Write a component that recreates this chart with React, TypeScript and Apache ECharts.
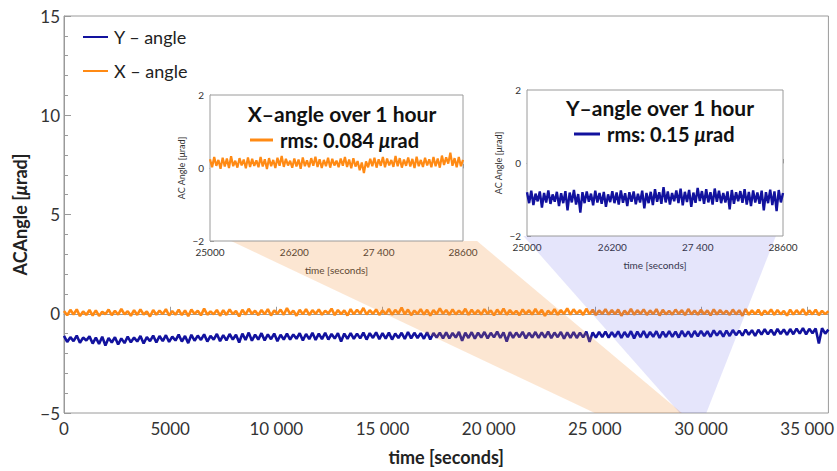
import React, { useEffect, useRef } from "react";
import * as echarts from "echarts";

// ---------- data ----------
const MAIN_START = 0;
const MAIN_STEP = 150; // seconds between plotted samples (main panel)
const INSET_START = 25000;
const INSET_STEP = 30; // seconds between plotted samples (insets)

const seriesNames = ["Y – angle", "X – angle"];
const insetTitles = ["X–angle over 1 hour", "Y–angle over 1 hour"];
const insetRms = ["rms: 0.084 μrad", "rms: 0.15 μrad"];

const mainXAngle = [
  0.14, -0.08, 0.2, -0.04, 0.22, -0.12, 0.12, -0.06, 0.19, -0.09,
  0.17, -0.11, 0.1, -0.02, 0.21, -0.07, 0.15, -0.05, 0.24, -0.03,
  0.13, -0.1, 0.18, -0.06, 0.22, -0.04, 0.11, -0.14, 0.19, -0.05,
  0.16, -0.02, 0.23, -0.09, 0.14, -0.05, 0.2, -0.07, 0.17, -0.12,
  0.21, -0.01, 0.15, -0.08, 0.26, -0.05, 0.12, -0.03, 0.19, -0.1,
  0.18, -0.06, 0.22, -0.02, 0.14, -0.13, 0.2, -0.04, 0.25, -0.01,
  0.15, -0.07, 0.19, -0.03, 0.23, -0.09, 0.17, 0.0, 0.21, -0.05,
  0.28, -0.02, 0.16, -0.1, 0.2, -0.03, 0.23, -0.06, 0.18, -0.01,
  0.22, -0.05, 0.15, 0.01, 0.26, -0.07, 0.19, -0.02, 0.17, -0.09,
  0.23, -0.03, 0.2, 0.0, 0.29, -0.04, 0.18, -0.01, 0.22, -0.06,
  0.17, -0.02, 0.24, -0.05, 0.19, 0.01, 0.31, -0.03, 0.21, -0.07,
  0.16, -0.01, 0.23, -0.04, 0.2, -0.09, 0.18, -0.02, 0.27, 0.0,
  0.19, -0.05, 0.22, -0.03, 0.16, -0.01, 0.25, -0.06, 0.2, -0.02,
  0.18, -0.04, 0.23, 0.0, 0.17, -0.08, 0.21, -0.03, 0.26, -0.05,
  0.19, -0.02, 0.15, -0.07, 0.22, -0.01, 0.18, -0.04, 0.24, -0.03,
  0.2, -0.11, 0.16, -0.02, 0.23, -0.05, 0.19, -0.01, 0.27, -0.04,
  0.22, 0.0, 0.18, -0.06, 0.25, -0.02, 0.2, -0.07, 0.17, -0.01,
  0.23, -0.04, 0.19, -0.02, 0.21, -0.1, 0.16, -0.03, 0.24, -0.05,
  0.18, -0.01, 0.22, -0.06, 0.17, -0.02, 0.23, -0.09, 0.2, -0.03,
  0.15, -0.04, 0.21, -0.01, 0.18, -0.07, 0.24, -0.03, 0.16, -0.05,
  0.2, -0.02, 0.17, -0.08, 0.22, -0.04, 0.19, -0.01, 0.15, -0.06,
  0.21, -0.03, 0.18, -0.1, 0.23, -0.05, 0.17, -0.02, 0.2, -0.07,
  0.16, -0.01, 0.22, -0.05, 0.19, -0.03, 0.14, -0.09, 0.21, -0.04,
  0.18, -0.02, 0.23, -0.06, 0.17, -0.03, 0.2, -0.07, 0.15, -0.02,
  0.13,
];

const mainYAngle = [
  -1.12, -1.42, -1.18, -1.38, -1.1, -1.46, -1.2, -1.35, -1.14, -1.5,
  -1.2, -1.52, -1.16, -1.6, -1.22, -1.45, -1.18, -1.55, -1.24, -1.48,
  -1.15, -1.44, -1.2, -1.4, -1.12, -1.5, -1.18, -1.38, -1.1, -1.45,
  -1.12, -1.38, -1.08, -1.42, -1.15, -1.35, -1.05, -1.4, -1.12, -1.48,
  -1.06, -1.36, -1.1, -1.32, -1.04, -1.4, -1.12, -1.3, -1.02, -1.38,
  -1.08, -1.34, -1.02, -1.3, -1.06, -1.45, -1.0, -1.32, -0.95, -1.36,
  -1.05, -1.3, -0.98, -1.34, -1.04, -1.28, -1.0, -1.38, -1.06, -1.3,
  -1.0, -1.3, -1.04, -1.26, -0.98, -1.34, -1.02, -1.28, -0.96, -1.32,
  -1.0, -1.28, -0.96, -1.3, -1.02, -1.25, -0.98, -1.4, -1.0, -1.27,
  -0.97, -1.26, -1.0, -1.24, -0.95, -1.3, -0.98, -1.22, -0.94, -1.28,
  -0.98, -1.25, -0.95, -1.3, -1.0, -1.22, -0.96, -1.27, -0.92, -1.24,
  -0.96, -1.22, -0.98, -1.26, -0.93, -1.3, -0.97, -1.2, -0.95, -1.24,
  -0.94, -1.24, -0.97, -1.2, -0.92, -1.36, -0.96, -1.22, -0.93, -1.25,
  -0.95, -1.2, -0.92, -1.24, -0.96, -1.19, -0.9, -1.22, -0.94, -1.4,
  -0.93, -1.21, -0.95, -1.18, -0.91, -1.24, -0.96, -1.2, -0.92, -1.22,
  -0.94, -1.2, -0.9, -1.23, -0.95, -1.18, -0.92, -1.26, -0.94, -1.21,
  -0.92, -1.22, -0.95, -1.19, -0.9, -1.42, -0.94, -1.2, -0.91, -1.18,
  -0.9, -1.2, -0.93, -1.17, -0.89, -1.22, -0.92, -1.18, -0.88, -1.24,
  -0.9, -1.18, -0.87, -1.2, -0.92, -1.16, -0.88, -1.22, -0.9, -1.17,
  -0.88, -1.16, -0.9, -1.2, -0.86, -1.15, -0.89, -1.18, -0.87, -1.14,
  -0.86, -1.12, -0.88, -1.16, -0.84, -1.1, -0.87, -1.15, -0.85, -1.12,
  -0.82, -1.08, -0.85, -1.1, -0.8, -1.06, -0.83, -1.12, -0.81, -1.05,
  -0.78, -1.04, -0.8, -1.08, -0.76, -1.02, -0.79, -1.06, -0.77, -1.03,
  -0.75, -1.0, -0.72, -1.04, -0.76, -0.98, -0.74, -1.5, -0.73, -1.0,
  -0.8,
];

const insetXAngle = [
  0.24, 0.02, 0.3, 0.06, 0.22, -0.02, 0.28, 0.04, 0.26, 0.0,
  0.32, 0.05, 0.2, 0.01, 0.27, 0.07, 0.23, -0.01, 0.29, 0.03,
  0.25, 0.06, 0.21, 0.02, 0.3, 0.04, 0.24, -0.03, 0.27, 0.05,
  0.22, 0.0, 0.28, 0.06, 0.33, 0.03, 0.25, 0.07, 0.2, 0.01,
  0.26, 0.04, 0.23, -0.02, 0.29, 0.05, 0.21, 0.02, 0.27, 0.06,
  0.31, 0.03, 0.24, 0.0, 0.22, 0.05, 0.28, 0.01, 0.25, 0.07,
  0.2, 0.02, 0.26, 0.06, 0.3, 0.03, 0.23, -0.01, 0.27, 0.04,
  0.19, -0.06, 0.15, -0.14, 0.18, 0.02, 0.25, 0.05, 0.28, 0.01,
  0.24, 0.06, 0.3, 0.02, 0.26, 0.07, 0.22, 0.03, 0.33, 0.05,
  0.27, 0.01, 0.23, 0.06, 0.29, 0.04, 0.25, 0.0, 0.31, 0.05,
  0.22, 0.03, 0.28, 0.07, 0.24, 0.02, 0.3, 0.05, 0.26, 0.01,
  0.34, 0.08, 0.29, 0.12, 0.42, 0.06, 0.27, 0.02, 0.3, 0.05,
  0.22,
];

const insetYAngle = [
  -0.8, -1.1, -0.76, -1.15, -0.84, -1.05, -0.78, -1.22, -0.82, -1.08,
  -0.75, -1.12, -0.86, -1.06, -0.79, -1.18, -0.83, -1.1, -0.77, -1.3,
  -0.81, -1.08, -0.74, -1.14, -0.85, -1.36, -0.8, -1.1, -0.78, -1.06,
  -0.84, -1.16, -0.76, -1.08, -0.82, -1.12, -0.79, -1.2, -0.86, -1.07,
  -0.77, -1.1, -0.81, -1.14, -0.75, -1.09, -0.83, -1.18, -0.8, -1.06,
  -0.78, -1.13, -0.84, -1.08, -0.76, -1.24, -0.82, -1.1, -0.79, -1.15,
  -0.72, -1.06, -0.8, -1.12, -0.66, -1.08, -0.78, -1.14, -0.82, -1.05,
  -0.75, -1.1, -0.7, -1.16, -0.79, -1.07, -0.74, -1.2, -0.81, -1.09,
  -0.68, -1.04, -0.77, -1.12, -0.72, -1.08, -0.8, -1.14, -0.7, -1.06,
  -0.76, -1.1, -0.82, -1.08, -0.78, -1.27, -0.74, -1.12, -0.8, -1.05,
  -0.77, -1.09, -0.72, -1.14, -0.79, -1.18, -0.75, -1.08, -0.81, -1.12,
  -0.76, -1.3, -0.8, -1.1, -0.73, -1.15, -0.78, -1.32, -0.74, -1.08,
  -0.82,
];

const mainXTicks = [0, 5000, 10000, 15000, 20000, 25000, 30000, 35000];
const insetXTicks = [25000, 26200, 27400, 28600];
const insetXTickLabels = ["25000", "26200", "27 400", "28600"];

// zoom shading: [left, right] time where each wedge meets the inset and the main axis
const orangeWedgeBottom = [25000, 29100];
const orangeWedgeTop = [25300, 28800];
const blueWedgeBottom = [29000, 30250];
const blueWedgeTop = [24950, 28500];

// ---------- style ----------
const ORANGE = "#FF8A14";
const BLUE = "#12129E";
const FONT = "Lato, 'Open Sans', sans-serif";
const AXIS = "#9a9a9a";
const TXT = "#333";

const toPairs = (vals: number[], start: number, step: number) =>
  vals.map((v, i) => [start + i * step, v]);

const minus = (v: number) => (v < 0 ? "−" + Math.abs(v) : String(v));
const spaced = (v: number) =>
  v >= 10000 ? `${Math.floor(v / 1000)} ${String(v % 1000).padStart(3, "0")}` : String(v);
const richMu = (s: string) =>
  s
    .split("μ")
    .map((p) => (p ? `{b|${p}}` : ""))
    .join("{i|μ}");

export default function App() {
  const ref = useRef<HTMLDivElement>(null);
  useEffect(() => {
    document.body.style.margin = "0";
    const chart = echarts.init(ref.current!, null, { renderer: "svg" });
    const insetRich = {
      b: { fontFamily: FONT, fontWeight: "bold", fontSize: 20, color: "#111" },
      i: { fontFamily: FONT, fontWeight: "bold", fontStyle: "italic", fontSize: 20, color: "#111" },
    };
    const insetX = (gi: number) => ({
      type: "value",
      gridIndex: gi,
      min: insetXTicks[0],
      max: insetXTicks[insetXTicks.length - 1],
      name: "time [seconds]",
      nameLocation: "middle",
      nameGap: 24,
      nameTextStyle: { fontFamily: FONT, fontSize: 10, color: TXT },
      axisLine: { lineStyle: { color: AXIS } },
      axisTick: { inside: true, length: 4, customValues: insetXTicks, lineStyle: { color: AXIS } },
      axisLabel: {
        customValues: insetXTicks,
        margin: 6,
        fontFamily: FONT,
        fontSize: 10,
        color: TXT,
        formatter: (v: number) => insetXTickLabels[insetXTicks.indexOf(v)] ?? String(v),
      },
      splitLine: { show: false },
    });
    const insetY = (gi: number) => ({
      type: "value",
      gridIndex: gi,
      min: -2,
      max: 2,
      interval: 2,
      name: "AC Angle [μrad]",
      nameLocation: "middle",
      nameGap: 24,
      nameTextStyle: { fontFamily: FONT, fontSize: 9, color: TXT },
      axisLine: { lineStyle: { color: AXIS } },
      axisTick: { inside: true, length: 4, lineStyle: { color: AXIS } },
      axisLabel: { margin: 6, fontFamily: FONT, fontSize: 10, color: TXT, formatter: minus },
      splitLine: { show: false },
    });

    chart.setOption({
      animation: false,
      backgroundColor: "#fff",
      textStyle: { fontFamily: FONT },
      grid: [
        { left: 64, top: 16, width: 771, height: 401, show: true, borderColor: AXIS, borderWidth: 1, backgroundColor: "transparent" },
        { left: 210, top: 95, width: 253, height: 146, show: true, borderColor: AXIS, borderWidth: 1, backgroundColor: "#fff", z: 6 },
        { left: 527, top: 90, width: 256, height: 146, show: true, borderColor: AXIS, borderWidth: 1, backgroundColor: "#fff", z: 6 },
      ],
      title: [
        { text: insetTitles[0], left: 337, top: 98, z: 10, textAlign: "center", textStyle: { fontFamily: FONT, fontSize: 21, fontWeight: "bold", color: "#111" } },
        { text: insetTitles[1], left: 655, top: 92, z: 10, textAlign: "center", textStyle: { fontFamily: FONT, fontSize: 21, fontWeight: "bold", color: "#111" } },
      ],
      legend: [
        {
          data: seriesNames,
          orient: "vertical",
          left: 78,
          top: 21,
          itemGap: 12,
          icon: "rect",
          itemWidth: 25,
          itemHeight: 2,
          textStyle: { fontFamily: FONT, fontSize: 18, color: "#222", lineHeight: 22, padding: [0, 0, 0, 1] },
        },
        {
          data: [insetRms[0]],
          left: 245,
          top: 125,
          z: 10,
          icon: "rect",
          itemWidth: 23,
          itemHeight: 3,
          formatter: richMu,
          textStyle: { rich: insetRich, padding: [0, 0, 0, 2] },
        },
        {
          data: [insetRms[1]],
          left: 569,
          top: 119,
          z: 10,
          icon: "rect",
          itemWidth: 26,
          itemHeight: 3,
          formatter: richMu,
          textStyle: { rich: insetRich, padding: [0, 0, 0, 2] },
        },
      ],
      xAxis: [
        {
          type: "value",
          gridIndex: 0,
          min: 0,
          max: 36000,
          name: "time [seconds]",
          nameLocation: "middle",
          nameGap: 35,
          nameTextStyle: { fontFamily: FONT, fontSize: 18, fontWeight: "bold", color: "#222" },
          axisLine: { lineStyle: { color: AXIS } },
          axisTick: { inside: true, length: 7, customValues: mainXTicks, lineStyle: { color: AXIS } },
          axisLabel: { customValues: mainXTicks, margin: 7, fontFamily: FONT, fontSize: 17, color: TXT, formatter: spaced },
          splitLine: { show: false },
        },
        insetX(1),
        insetX(2),
      ],
      yAxis: [
        {
          type: "value",
          gridIndex: 0,
          min: -5,
          max: 15,
          interval: 5,
          name: "{b|ACAngle [}{i|μ}{b|rad]}",
          nameLocation: "middle",
          nameGap: 35,
          nameTextStyle: {
            rich: {
              b: { fontFamily: FONT, fontSize: 18, fontWeight: "bold", color: "#222" },
              i: { fontFamily: FONT, fontSize: 18, fontWeight: "bold", fontStyle: "italic", color: "#222" },
            },
          },
          axisLine: { lineStyle: { color: AXIS } },
          axisTick: { inside: true, length: 7, lineStyle: { color: AXIS } },
          minorTick: { show: true, splitNumber: 5, length: 4, lineStyle: { color: AXIS } },
          axisLabel: { margin: 4, fontFamily: FONT, fontSize: 17, color: TXT, formatter: minus },
          splitLine: { show: false },
        },
        insetY(1),
        insetY(2),
      ],
      series: [
        {
          name: seriesNames[0],
          type: "line",
          xAxisIndex: 0,
          yAxisIndex: 0,
          data: toPairs(mainYAngle, MAIN_START, MAIN_STEP),
          showSymbol: false,
          color: BLUE,
          lineStyle: { width: 2.6, color: BLUE },
        },
        {
          name: seriesNames[1],
          type: "line",
          xAxisIndex: 0,
          yAxisIndex: 0,
          data: toPairs(mainXAngle, MAIN_START, MAIN_STEP),
          showSymbol: false,
          color: ORANGE,
          lineStyle: { width: 2.6, color: ORANGE },
        },
        {
          name: insetRms[0],
          type: "line",
          xAxisIndex: 1,
          yAxisIndex: 1,
          z: 8,
          data: toPairs(insetXAngle, INSET_START, INSET_STEP),
          showSymbol: false,
          color: ORANGE,
          lineStyle: { width: 2.2, color: ORANGE },
        },
        {
          name: insetRms[1],
          type: "line",
          xAxisIndex: 2,
          yAxisIndex: 2,
          z: 8,
          data: toPairs(insetYAngle, INSET_START, INSET_STEP),
          showSymbol: false,
          color: BLUE,
          lineStyle: { width: 2.4, color: BLUE },
        },
      ],
    });

    const px = (gi: number, x: number, y: number) =>
      chart.convertToPixel({ gridIndex: gi } as any, [x, y]) as number[];
    const wedge = (gi: number, top: number[], bottom: number[], fill: string) => ({
      type: "polygon",
      z: 5,
      silent: true,
      shape: {
        points: [px(gi, top[0], -2), px(gi, top[1], -2), px(0, bottom[1], -5), px(0, bottom[0], -5)],
      },
      style: { fill },
    });
    chart.setOption({
      graphic: [
        wedge(1, orangeWedgeTop, orangeWedgeBottom, "rgba(240,140,50,0.22)"),
        wedge(2, blueWedgeTop, blueWedgeBottom, "rgba(70,70,230,0.14)"),
      ],
    });

    return () => chart.dispose();
  }, []);
  return <div ref={ref} style={{ width: 837, height: 471 }} />;
}
